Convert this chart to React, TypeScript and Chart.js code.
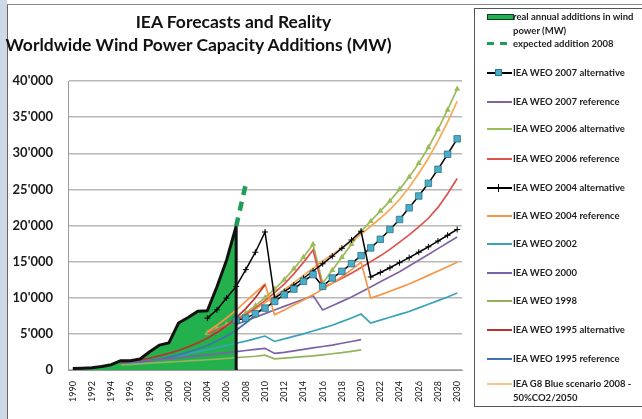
import React, { useEffect, useRef } from "react";
import { Chart, registerables } from "chart.js";

Chart.register(...registerables);

// ---------- data ----------
const xTickYears = [1990, 1992, 1994, 1996, 1998, 2000, 2002, 2004, 2006, 2008, 2010, 2012, 2014, 2016, 2018, 2020, 2022, 2024, 2026, 2028, 2030];
const yTickValues = [0, 5000, 10000, 15000, 20000, 25000, 30000, 35000, 40000];
const yTickLabels = ["0", "5'000", "10'000", "15'000", "20'000", "25'000", "30'000", "35'000", "40'000"];

const realStart = 1990;
const realAdditions = [200, 250, 300, 480, 730, 1290, 1280, 1530, 2520, 3440, 3760, 6500, 7270, 8130, 8200, 11530, 15200, 19900];

const expectedStart = 2007;
const expected2008 = [19900, 25700];

const weo2007AltStart = 2007;
const weo2007Alt = [6900, 7180, 7800, 8570, 9490, 10420, 11200, 12270, 13200, 11580, 12730, 13660, 14720, 15830, 16900, 18100, 19450, 20830, 22450, 24080, 25840, 27780, 29860, 32000];

const weo2007RefStart = 2007;
const weo2007Ref = [6300, 6800, 7300, 7800, 8300, 8800, 9300, 9800, 10300, 8300, 8900, 9500, 10100, 10800, 11500, 12200, 12900, 13600, 14400, 15200, 16000, 16800, 17600, 18400];

const weo2006AltStart = 2004;
const weo2006Alt = [5100, 5700, 6300, 7000, 7900, 8900, 10000, 11200, 12500, 14000, 15600, 17400, 12000, 13800, 15600, 17400, 19200, 20600, 22000, 23400, 25000, 26700, 28600, 30800, 33300, 36000, 38900];

const weo2006RefStart = 2004;
const weo2006Ref = [5000, 5600, 6200, 6900, 7700, 8600, 9600, 10700, 11900, 13300, 14900, 16600, 11400, 12000, 12700, 13400, 14200, 15000, 15800, 16700, 17700, 18700, 19800, 21000, 22500, 24400, 26500];

const weo2004AltStart = 2004;
const weo2004Alt = [7180, 8330, 9960, 11570, 13890, 16300, 19100, 9950, 10850, 11750, 12700, 13700, 14700, 15750, 16850, 18000, 19200, 12870, 13500, 14150, 14850, 15550, 16300, 17050, 17850, 18650, 19450];

const weo2004RefStart = 2004;
const weo2004Ref = [5300, 6200, 7200, 8300, 9500, 10700, 11900, 7640, 8300, 9000, 9700, 10400, 11200, 12000, 12900, 13900, 14900, 9950, 10400, 10900, 11400, 11900, 12500, 13100, 13700, 14300, 14900];

const weo2002Start = 2000;
const weo2002 = [1800, 2000, 2250, 2500, 2800, 3100, 3400, 3700, 4000, 4350, 4700, 3950, 4300, 4650, 5000, 5400, 5800, 6200, 6700, 7200, 7750, 6500, 6900, 7300, 7700, 8100, 8600, 9100, 9600, 10100, 10650];

const weo2000Start = 1996;
const weo2000 = [1100, 1200, 1300, 1420, 1550, 1680, 1820, 1960, 2100, 2250, 2400, 2550, 2700, 2850, 3000, 2300, 2450, 2650, 2850, 3050, 3250, 3450, 3700, 3950, 4200];

const weo1998Start = 1995;
const weo1998 = [700, 780, 860, 940, 1020, 1100, 1180, 1260, 1340, 1420, 1500, 1600, 1700, 1800, 1900, 2050, 1550, 1650, 1750, 1850, 1950, 2100, 2250, 2400, 2580, 2780];

const weo1995AltStart = 1995;
const weo1995Alt = [1000, 1180, 1400, 1650, 1950, 2300, 2700, 3200, 3750, 4400, 5200, 6100, 7200, 8500, 10000, 11800];

const weo1995RefStart = 1995;
const weo1995Ref = [800, 940, 1100, 1300, 1520, 1790, 2100, 2470, 2900, 3400, 4000, 4700, 5500, 6500, 7600, 8900];

const g8BlueStart = 2008;
const g8Blue = [7600, 8400, 9300, 10200, 11100, 12100, 13100, 14100, 15100, 16000, 16900, 17800, 18800, 19900, 21000, 22200, 23600, 25300, 27200, 29300, 31700, 34300, 37200];

const legendLabels = [
  ["real annual additions in wind", "power (MW)"],
  ["expected addition 2008"],
  ["IEA WEO 2007 alternative"],
  ["IEA WEO 2007 reference"],
  ["IEA WEO 2006 alternative"],
  ["IEA WEO 2006 reference"],
  ["IEA WEO 2004 alternative"],
  ["IEA WEO 2004 reference"],
  ["IEA WEO 2002"],
  ["IEA WEO 2000"],
  ["IEA WEO 1998"],
  ["IEA WEO 1995 alternative"],
  ["IEA WEO 1995 reference"],
  ["IEA G8 Blue scenario 2008 -", "50%CO2/2050"],
];

// ---------- styles ----------
const C = {
  area: "#22b14c",
  dash: "#1f9d57",
  w07a: "#000000",
  w07aMarker: "#4bacc6",
  w07r: "#8064a2",
  w06a: "#9bbb59",
  w06r: "#e0504d",
  w04a: "#000000",
  w04r: "#f79646",
  w02: "#38a3b8",
  w00: "#7a62a6",
  w98: "#93b25c",
  w95a: "#b8332e",
  w95r: "#3f72b0",
  g8: "#f9a850",
};
const legendMarkers = ["area", "dash", "square", "line", "line", "line", "plus", "line", "line", "line", "line", "line", "line", "line"];
const legendColors = [C.area, C.dash, C.w07a, C.w07r, C.w06a, C.w06r, C.w04a, C.w04r, C.w02, C.w00, C.w98, C.w95a, C.w95r, "#f5c58e"];
const legendTops = [16.5, 43.5, 72.5, 101.5, 129, 159, 187.5, 216, 244, 273, 301, 330, 358.5, 384];

const pts = (start: number, vals: number[]) => vals.map((v, i) => ({ x: start + i, y: v }));

function lineDs(label: string, start: number, vals: number[], color: string, extra: any = {}) {
  return {
    label,
    data: pts(start, vals),
    borderColor: color,
    backgroundColor: color,
    borderWidth: 1.7,
    pointRadius: 0,
    fill: false,
    order: 10,
    ...extra,
  };
}

export default function App() {
  const ref = useRef<HTMLCanvasElement | null>(null);

  useEffect(() => {
    if (!ref.current) return;
    const realPts = pts(realStart, realAdditions);
    const realBorder = realPts.concat([{ x: realStart + realAdditions.length - 1, y: 0 }]);
    const chart = new Chart(ref.current, {
      type: "line",
      data: {
        datasets: [
          {
            label: "real area",
            data: realPts,
            borderWidth: 0,
            borderColor: "rgba(0,0,0,0)",
            backgroundColor: C.area,
            fill: "origin",
            pointRadius: 0,
            order: 50,
          } as any,
          lineDs("IEA WEO 1998", weo1998Start, weo1998, C.w98),
          lineDs("IEA WEO 2000", weo2000Start, weo2000, C.w00),
          lineDs("IEA WEO 1995 reference", weo1995RefStart, weo1995Ref, C.w95r),
          lineDs("IEA WEO 1995 alternative", weo1995AltStart, weo1995Alt, C.w95a),
          lineDs("IEA WEO 2002", weo2002Start, weo2002, C.w02),
          lineDs("IEA WEO 2004 reference", weo2004RefStart, weo2004Ref, C.w04r),
          lineDs("IEA WEO 2007 reference", weo2007RefStart, weo2007Ref, C.w07r),
          lineDs("IEA WEO 2006 reference", weo2006RefStart, weo2006Ref, C.w06r),
          lineDs("IEA G8 Blue", g8BlueStart, g8Blue, C.g8),
          lineDs("IEA WEO 2006 alternative", weo2006AltStart, weo2006Alt, C.w06a, {
            pointRadius: 1.8,
            pointStyle: "triangle",
            pointBackgroundColor: C.w06a,
            pointBorderColor: C.w06a,
          }),
          lineDs("IEA WEO 2004 alternative", weo2004AltStart, weo2004Alt, C.w04a, {
            borderWidth: 1.5,
            pointRadius: 3,
            pointStyle: "cross",
            pointBorderColor: "#000",
            pointBorderWidth: 1,
            order: 5,
          }),
          lineDs("IEA WEO 2007 alternative", weo2007AltStart, weo2007Alt, C.w07a, {
            borderWidth: 1.5,
            pointRadius: 4.6,
            pointStyle: "rect",
            pointBackgroundColor: C.w07aMarker,
            pointBorderColor: "#2b7489",
            pointBorderWidth: 0.8,
            order: 4,
          }),
          {
            label: "real border",
            data: realBorder,
            borderColor: "#111",
            borderWidth: 3,
            pointRadius: 0,
            fill: false,
            order: 1,
            borderJoinStyle: "round",
          } as any,
          {
            label: "expected",
            data: pts(expectedStart, expected2008),
            borderColor: C.dash,
            borderWidth: 4.5,
            borderDash: [9, 7],
            pointRadius: 0,
            fill: false,
            order: 0,
          } as any,
        ],
      },
      options: {
        responsive: false,
        animation: false,
        devicePixelRatio: 1,
        layout: { padding: { top: 81, right: 180, left: 0, bottom: 0 } },
        plugins: {
          legend: { display: false },
          title: { display: false },
          tooltip: { enabled: false },
        },
        elements: { line: { tension: 0 } },
        scales: {
          x: {
            type: "linear",
            min: 1989.5,
            max: 2030.5,
            grid: { display: false, drawTicks: false },
            border: { display: true, color: "#9a9a9a", width: 1 },
            afterBuildTicks: (s: any) => {
              s.ticks = xTickYears.map((v) => ({ value: v }));
            },
            afterFit: (s: any) => {
              s.height = 49;
            },
            ticks: {
              autoSkip: false,
              minRotation: 90,
              maxRotation: 90,
              padding: 11,
              color: "#111",
              font: { family: "Lato", size: 9 },
              callback: (v: any) => String(v),
            },
          },
          y: {
            min: 0,
            max: 40000,
            afterBuildTicks: (s: any) => {
              s.ticks = yTickValues.map((v) => ({ value: v }));
            },
            afterFit: (s: any) => {
              s.width = 68;
            },
            grid: { color: "#b8b8b8", lineWidth: 1.4, drawTicks: false },
            border: { display: true, color: "#9a9a9a", width: 1 },
            ticks: {
              padding: 15,
              color: "#1a1a1a",
              font: { family: "Lato", size: 13, weight: "bold" },
              callback: (_v: any, i: number) => yTickLabels[i],
            },
          },
        },
      } as any,
    });
    return () => chart.destroy();
  }, []);

  const marker = (kind: string, color: string) => {
    const base: React.CSSProperties = { position: "absolute", left: 487, width: 25 };
    if (kind === "area")
      return <div style={{ ...base, top: -3, height: 4, background: color, border: "1.5px solid #0d3d1c" }} />;
    if (kind === "dash")
      return (
        <>
          <div style={{ position: "absolute", left: 487, width: 7, top: -1.5, height: 3, background: color }} />
          <div style={{ position: "absolute", left: 500, width: 7, top: -1.5, height: 3, background: color }} />
        </>
      );
    const line = <div style={{ ...base, top: -1, height: 2, background: color }} />;
    if (kind === "square")
      return (
        <>
          {line}
          <div style={{ position: "absolute", left: 495, top: -4, width: 7, height: 7, background: C.w07aMarker, border: "1px solid #2b7489", boxSizing: "border-box" }} />
        </>
      );
    if (kind === "plus")
      return (
        <>
          {line}
          <div style={{ position: "absolute", left: 498, top: -4, width: 1.2, height: 8, background: "#000" }} />
        </>
      );
    return line;
  };

  return (
    <div style={{ position: "fixed", left: 0, top: 0, width: 642, height: 419, overflow: "hidden", background: "#fff", fontFamily: "Lato, sans-serif" }}>
      <canvas ref={ref} width={642} height={419} style={{ position: "absolute", left: 0, top: 0, width: 642, height: 419 }} />
      <div style={{ position: "absolute", left: 0, top: 0, width: 7, height: 419, background: "#cdd9e4" }} />
      <div style={{ position: "absolute", left: 7, top: 4, width: 640, height: 420, borderLeft: "1.5px solid #666", borderTop: "1.5px solid #8a8a8a" }} />
      <div style={{ position: "absolute", left: 0, width: 467, top: 12, textAlign: "center", fontWeight: 700, fontSize: 17.5, lineHeight: "20px", color: "#111", whiteSpace: "nowrap" }}>
        IEA Forecasts and Reality
      </div>
      <div style={{ position: "absolute", left: 0, width: 397, top: 35, textAlign: "center", fontWeight: 700, fontSize: 17.5, lineHeight: "20px", color: "#111", whiteSpace: "nowrap" }}>
        Worldwide Wind Power Capacity Additions (MW)
      </div>
      <div style={{ position: "absolute", left: 474, top: 8, width: 220, height: 397, border: "1.5px solid #555" }} />
      {legendLabels.map((lines, i) => (
        <div key={i} style={{ position: "absolute", left: 0, top: legendTops[i], width: 0, height: 0 }}>
          {marker(legendMarkers[i], legendColors[i])}
          {lines.map((t, j) => (
            <div
              key={j}
              style={{
                position: "absolute",
                left: 513,
                top: -6 + j * 14,
                fontSize: 9.5,
                lineHeight: "12px",
                fontWeight: 700,
                color: "#222",
                whiteSpace: "nowrap",
              }}
            >
              {t}
            </div>
          ))}
        </div>
      ))}
    </div>
  );
}
